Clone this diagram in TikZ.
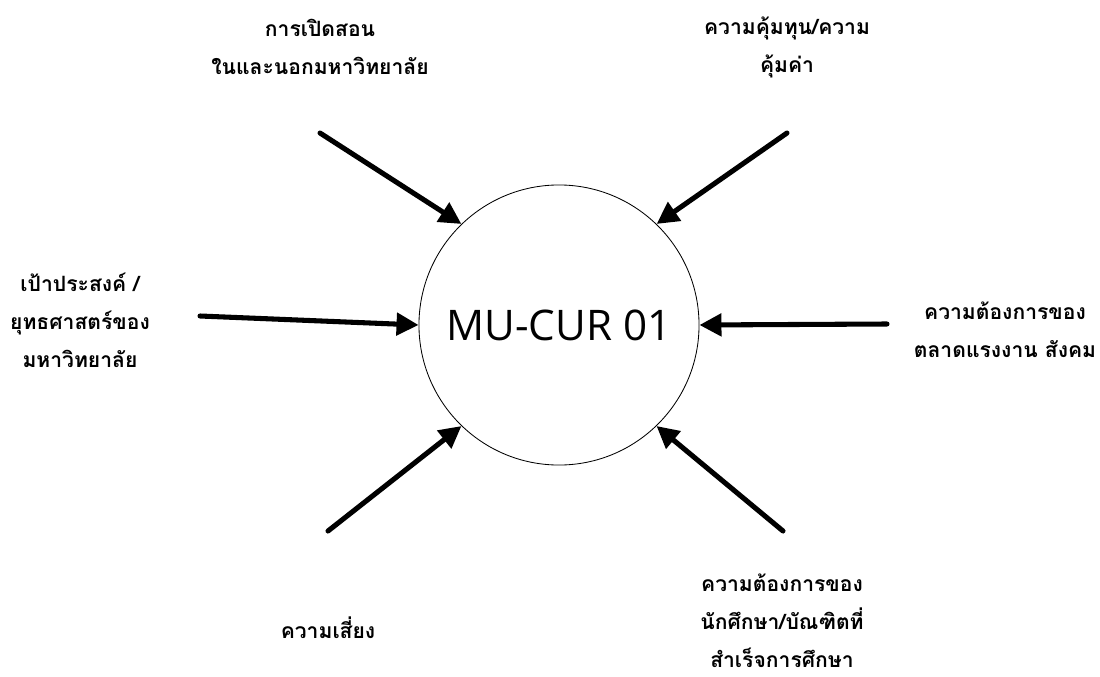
\documentclass[tikz,border=0pt]{standalone}
\usepackage{fontspec}
\setsansfont{Open Sans}
\newfontfamily\thaifont[Script=Thai]{Loma}
\usetikzlibrary{arrows.meta}

\tikzset{
    thaitext/.style={font=\thaifont\bfseries\fontsize{15}{27}\selectfont, align=center},
    feed/.style={line width=3.6pt, line cap=round, -{Triangle[length=0.55cm, width=0.55cm]}}
}

\begin{document}
\begin{tikzpicture}[x=0.025cm, y=-0.025cm]
    \useasboundingbox (0, 0) rectangle (1100, 677);

    % Centre circle
    \node[circle, draw, line width=0.6pt, minimum size=7cm, inner sep=0pt,
          font=\sffamily\fontsize{30}{36}\selectfont] (cur) at (559, 325) {MU-CUR 01};

    % Labels round the circle
    \node[thaitext] (open) at (320, 47) {การเปิดสอน\\ในและนอกมหาวิทยาลัย};
    \node[thaitext] (worth) at (787, 47) {ความคุ้มทุน/ความ\\คุ้มค่า};
    \node[thaitext] (goal) at (80, 320) {เป้าประสงค์ /\\ยุทธศาสตร์ของ\\มหาวิทยาลัย};
    \node[thaitext] (market) at (1005, 330) {ความต้องการของ\\ตลาดแรงงาน สังคม};
    \node[thaitext] (risk) at (328, 628) {ความเสี่ยง};
    \node[thaitext] (student) at (782, 621) {ความต้องการของ\\นักศึกษา/บัณฑิตที่\\สำเร็จการศึกษา};

    % Arrow starts
    \coordinate (s1) at (320, 133);
    \coordinate (s2) at (787, 133);
    \coordinate (s3) at (200, 316);
    \coordinate (s4) at (887, 324);
    \coordinate (s5) at (328, 531);
    \coordinate (s6) at (783, 531);

    % Arrows into the circle
    \draw[feed] (s1) -- (cur.134);
    \draw[feed] (s2) -- (cur.46);
    \draw[feed] (s3) -- (cur.180);
    \draw[feed] (s4) -- (cur.0);
    \draw[feed] (s5) -- (cur.226);
    \draw[feed] (s6) -- (cur.314);
\end{tikzpicture}
\end{document}
